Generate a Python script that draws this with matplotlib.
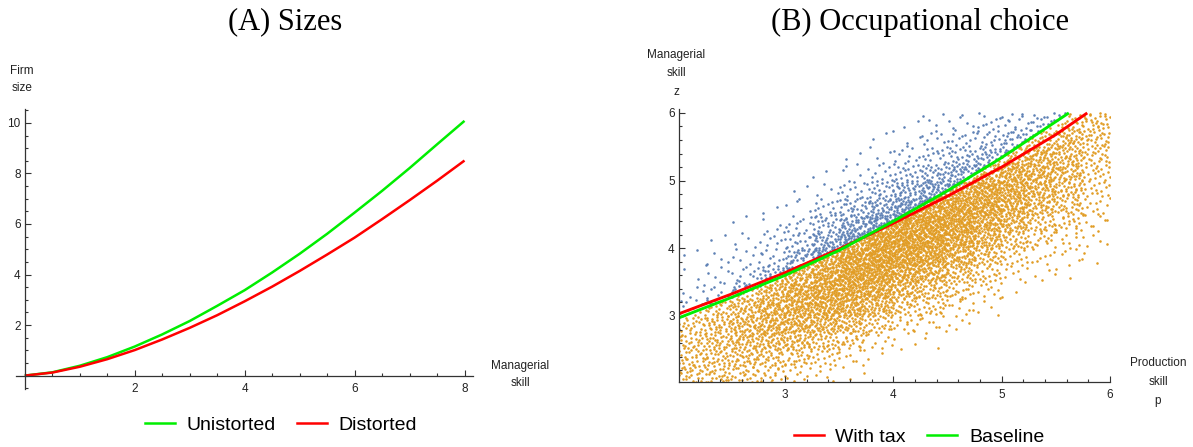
import numpy as np
import matplotlib
matplotlib.use('Agg')
import matplotlib.pyplot as plt
from matplotlib.ticker import MultipleLocator, FixedLocator
from matplotlib.lines import Line2D

# ---------------- data ----------------
# Panel A: firm size vs managerial skill
skill_x = [0, 0.5, 1, 1.5, 2, 2.5, 3, 3.5, 4, 4.5, 5, 5.5, 6, 6.5, 7, 7.5, 8]
size_undistorted = [0, 0.13, 0.39, 0.73, 1.15, 1.63, 2.16, 2.76, 3.38, 4.08, 4.82,
                    5.61, 6.45, 7.31, 8.21, 9.15, 10.08]
size_distorted = [0, 0.12, 0.35, 0.65, 1.01, 1.43, 1.89, 2.39, 2.94, 3.52, 4.14,
                  4.79, 5.46, 6.19, 6.94, 7.71, 8.51]

# Panel B: occupational thresholds
tax_p = [2.0, 2.5, 3.0, 3.5, 4.0, 4.5, 5.0, 5.5, 5.79]
tax_z = [3.02, 3.32, 3.64, 3.99, 4.37, 4.77, 5.20, 5.68, 6.0]
base_p = [2.0, 2.5, 3.0, 3.5, 4.0, 4.5, 5.0, 5.62]
base_z = [2.96, 3.27, 3.60, 3.97, 4.40, 4.85, 5.34, 6.0]

# Panel B: approximate number of individuals per 0.25 x 0.25 cell,
# rows = managerial skill bins from z=2.0 upward, cols = production skill bins from p=2.0
cell_p0 = [2.0 + 0.25 * i for i in range(16)]
cell_z0 = [2.0 + 0.25 * i for i in range(16)]
cloud_counts = [
    [28, 28, 24, 16, 10, 6, 2, 0, 0, 0, 0, 0, 0, 0, 0, 0],
    [28, 32, 36, 32, 24, 16, 8, 2, 0, 0, 0, 0, 0, 0, 0, 0],
    [28, 36, 44, 48, 44, 32, 22, 8, 4, 2, 0, 0, 0, 0, 0, 0],
    [24, 36, 50, 60, 64, 56, 44, 24, 12, 8, 4, 0, 0, 0, 0, 0],
    [10, 28, 44, 64, 76, 80, 72, 52, 28, 20, 10, 4, 0, 0, 0, 0],
    [4, 8, 28, 52, 76, 90, 92, 80, 52, 36, 20, 10, 2, 0, 0, 0],
    [2, 6, 10, 28, 60, 84, 104, 104, 80, 60, 36, 20, 8, 4, 2, 0],
    [2, 4, 6, 12, 32, 72, 104, 116, 108, 88, 60, 36, 16, 8, 6, 2],
    [0, 2, 4, 8, 18, 40, 72, 108, 116, 108, 84, 56, 32, 16, 10, 4],
    [0, 0, 2, 4, 10, 22, 44, 68, 100, 112, 100, 76, 52, 28, 18, 8],
    [0, 0, 0, 2, 4, 12, 24, 40, 60, 88, 100, 92, 68, 44, 28, 12],
    [0, 0, 0, 0, 2, 4, 12, 20, 36, 52, 72, 88, 76, 56, 36, 16],
    [0, 0, 0, 0, 0, 2, 4, 10, 18, 28, 40, 56, 72, 60, 44, 20],
    [0, 0, 0, 0, 0, 0, 2, 4, 10, 14, 22, 30, 44, 56, 44, 24],
    [0, 0, 0, 0, 0, 0, 0, 2, 4, 8, 12, 16, 24, 32, 44, 28],
    [0, 0, 0, 0, 0, 0, 0, 0, 2, 4, 6, 10, 12, 16, 24, 28],
]
cell_size = 0.25

# ---------------- style ----------------
W, H = 1193, 447
fig = plt.figure(figsize=(W / 100, H / 100), dpi=100)
SANS = ['Liberation Sans', 'DejaVu Sans']
SERIF = ['Liberation Serif', 'DejaVu Serif']
AXC = '#333333'
GREEN = '#00EE00'
RED = '#FF0000'
BLUE = '#5E81B5'
ORANGE = '#E19C24'


def fx(px):
    return px / W


def fy(py):
    return 1 - py / H


def style_axis(ax):
    for s in ['top', 'right']:
        ax.spines[s].set_visible(False)
    for s in ['left', 'bottom']:
        ax.spines[s].set_color(AXC)
        ax.spines[s].set_linewidth(0.9)
    ax.tick_params(which='both', direction='in', color=AXC, width=0.8,
                   labelsize=8.5, labelcolor='#222222')
    ax.tick_params(which='major', length=4.0)
    ax.tick_params(which='minor', length=2.2)


def van_der_corput(n, base):
    q, denom = 0.0, 1.0
    while n > 0:
        n, rem = divmod(n, base)
        denom *= base
        q += rem / denom
    return q


# ---------------- Panel A ----------------
axA = fig.add_axes([fx(16), fy(389), (473.3 - 16) / W, (389 - 109) / H])
axA.plot(skill_x, size_undistorted, color=GREEN, lw=1.8, solid_capstyle='butt')
axA.plot(skill_x, size_distorted, color=RED, lw=1.8, solid_capstyle='butt')
axA.set_xlim(-0.16, 8.16)
axA.set_ylim(-0.53, 10.55)
axA.spines['left'].set_position(('data', 0))
axA.spines['bottom'].set_position(('data', 0))
axA.xaxis.set_major_locator(FixedLocator([2, 4, 6, 8]))
axA.xaxis.set_minor_locator(MultipleLocator(0.5))
axA.yaxis.set_major_locator(FixedLocator([2, 4, 6, 8, 10]))
axA.yaxis.set_minor_locator(MultipleLocator(0.5))
style_axis(axA)
axA.tick_params(axis='x', pad=5)
axA.tick_params(axis='y', pad=3)
for lab in axA.get_xticklabels() + axA.get_yticklabels():
    lab.set_family(SANS)

fig.text(fx(22), fy(79.5), 'Firm\nsize', ha='center', va='center', fontsize=8.5,
         family=SANS, linespacing=1.6, color='#222222')
fig.text(fx(520), fy(374.5), 'Managerial\nskill', ha='center', va='center',
         fontsize=8.5, family=SANS, linespacing=1.6, color='#222222')
fig.text(fx(285), fy(22), '(A) Sizes', ha='center', va='center', fontsize=22,
         family=SERIF)

legA = [Line2D([], [], color=GREEN, lw=1.8), Line2D([], [], color=RED, lw=1.8)]
fig.legend(legA, ['Unistorted', 'Distorted'], loc='center',
           bbox_to_anchor=(fx(281), fy(425)), ncol=2, frameon=False,
           prop={'family': SANS, 'size': 14}, handlelength=1.55,
           handletextpad=0.6, columnspacing=1.1, borderpad=0)

# ---------------- Panel B ----------------
axB = fig.add_axes([fx(678.8), fy(382.3), (1110 - 678.8) / W, (382.3 - 108.9) / H])

# place the counted individuals inside their cells (deterministic Halton layout)
pts_p, pts_z = [], []
k = 37
for r, row in enumerate(cloud_counts):
    for c, n in enumerate(row):
        for _ in range(n):
            k += 1
            u = van_der_corput(k, 2)
            v = van_der_corput(k, 3)
            pts_p.append(cell_p0[c] + u * cell_size)
            pts_z.append(cell_z0[r] + v * cell_size)
pts_p = np.array(pts_p)
pts_z = np.array(pts_z)
threshold = np.interp(pts_p, base_p, base_z)
is_manager = pts_z > threshold

axB.scatter(pts_p[~is_manager], pts_z[~is_manager], s=3.4, color=ORANGE,
            linewidths=0)
axB.scatter(pts_p[is_manager], pts_z[is_manager], s=3.4, color=BLUE,
            linewidths=0)
axB.plot(tax_p, tax_z, color=RED, lw=2.1, solid_capstyle='butt')
axB.plot(base_p, base_z, color=GREEN, lw=2.1, solid_capstyle='butt')
axB.set_xlim(2.02, 6.0)
axB.set_ylim(2.02, 6.06)
axB.xaxis.set_major_locator(FixedLocator([3, 4, 5, 6]))
axB.xaxis.set_minor_locator(MultipleLocator(0.2))
axB.yaxis.set_major_locator(FixedLocator([3, 4, 5, 6]))
axB.yaxis.set_minor_locator(MultipleLocator(0.2))
style_axis(axB)
axB.tick_params(axis='x', pad=5)
axB.tick_params(axis='y', pad=3)
for lab in axB.get_xticklabels() + axB.get_yticklabels():
    lab.set_family(SANS)

fig.text(fx(676), fy(73.5), 'Managerial\nskill\nz', ha='center', va='center',
         fontsize=8.5, family=SANS, linespacing=1.75, color='#222222')
fig.text(fx(1158), fy(382), 'Production\nskill\np', ha='center', va='center',
         fontsize=8.5, family=SANS, linespacing=1.75, color='#222222')
fig.text(fx(920), fy(22), '(B) Occupational choice', ha='center', va='center',
         fontsize=22, family=SERIF)

legB = [Line2D([], [], color=RED, lw=1.8), Line2D([], [], color=GREEN, lw=1.8)]
fig.legend(legB, ['With tax', 'Baseline'], loc='center',
           bbox_to_anchor=(fx(919), fy(437)), ncol=2, frameon=False,
           prop={'family': SANS, 'size': 14}, handlelength=1.55,
           handletextpad=0.6, columnspacing=1.1, borderpad=0)

fig.savefig('out.png', dpi=100)
